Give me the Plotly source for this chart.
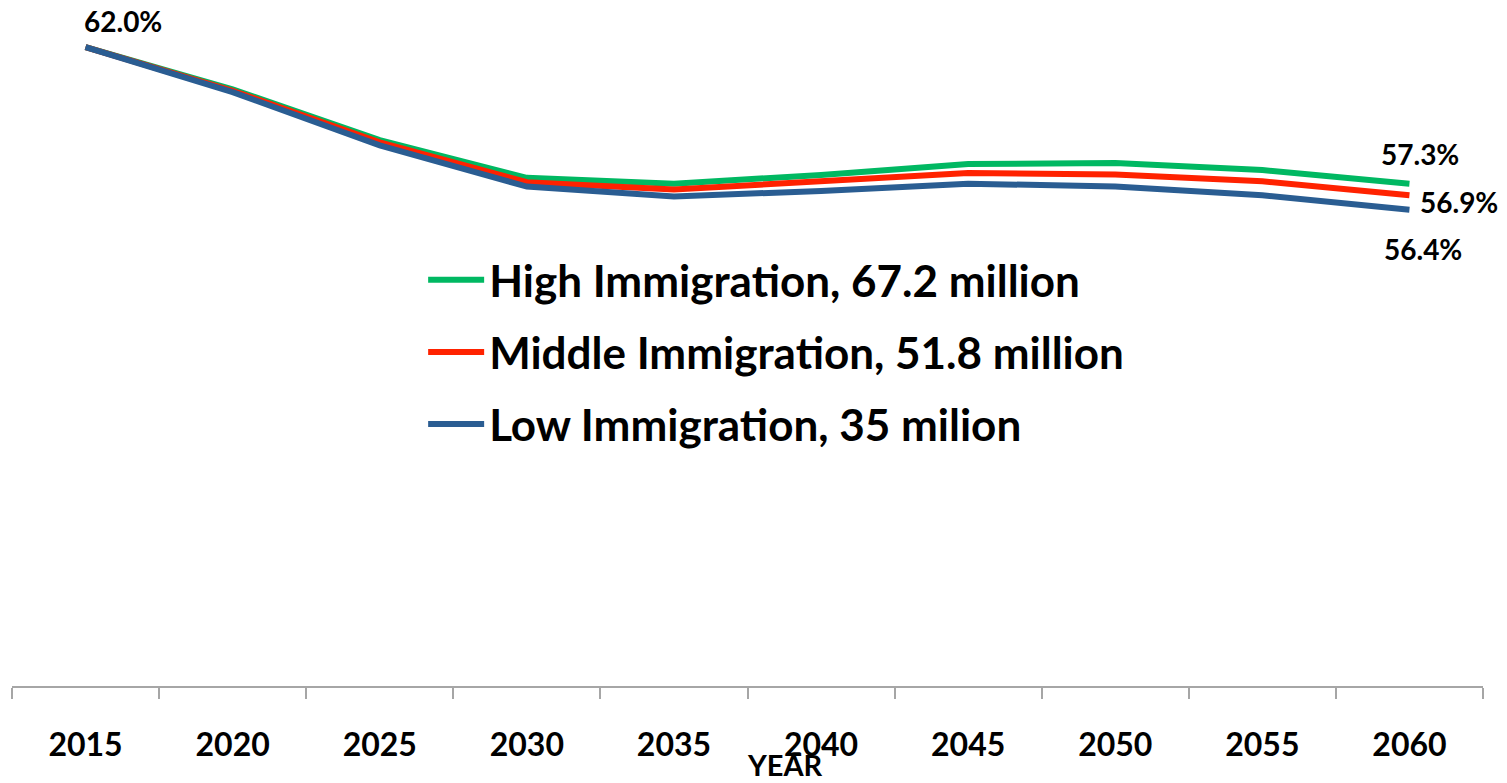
import plotly.graph_objects as go

years = ["2015", "2020", "2025", "2030", "2035", "2040", "2045", "2050", "2055", "2060"]
high = [62.0, 60.55, 58.8, 57.5, 57.3, 57.6, 57.98, 58.01, 57.77, 57.3]
middle = [62.0, 60.5, 58.72, 57.35, 57.1, 57.36, 57.67, 57.62, 57.38, 56.9]
low = [62.0, 60.45, 58.62, 57.2, 56.86, 57.05, 57.3, 57.2, 56.9, 56.4]

names = ["High Immigration, 67.2 million", "Middle Immigration, 51.8 million", "Low Immigration, 35 milion"]
colors = ["#00B862", "#FF2200", "#2A5D92"]

FONT = "Lato"
first = 0
last = len(years) - 1

fig = go.Figure()
for i, (vals, nm, col) in enumerate(zip([high, middle, low], names, colors)):
    fig.add_trace(go.Scatter(
        x=years, y=vals, mode="lines", name=nm, legendgroup=str(i),
        line=dict(color=col, width=6), hoverinfo="skip",
    ))

lab_font = dict(family=FONT, size=28, color="black", weight="bold")
fig.add_annotation(x=first, y=high[first], text="%.1f%%" % high[first], showarrow=False,
                   xanchor="left", yanchor="bottom", xshift=-4, yshift=7, font=lab_font)
fig.add_annotation(x=last, y=high[last], text="%.1f%%" % high[last], showarrow=False,
                   xanchor="left", yanchor="bottom", xshift=-30, yshift=11, font=lab_font)
fig.add_annotation(x=last, y=middle[last], text="%.1f%%" % middle[last], showarrow=False,
                   xanchor="left", yanchor="middle", xshift=9, yshift=-7, font=lab_font)
fig.add_annotation(x=last, y=low[last], text="%.1f%%" % low[last], showarrow=False,
                   xanchor="left", yanchor="top", xshift=-27, yshift=-20, font=lab_font)

fig.add_annotation(xref="paper", yref="paper", x=0.5255, y=-0.116, text="YEAR",
                   showarrow=False, xanchor="center", yanchor="middle",
                   font=dict(family=FONT, size=29, color="black", weight="bold"))

fig.update_layout(
    width=1507, height=783,
    margin=dict(l=12, r=24, t=8, b=97),
    paper_bgcolor="white", plot_bgcolor="white",
    showlegend=True,
    legend=dict(x=0.2795, y=0.651, xanchor="left", yanchor="top",
                font=dict(family=FONT, size=44, color="black", weight="bold"),
                bgcolor="rgba(0,0,0,0)", traceorder="grouped", tracegroupgap=12,
                itemwidth=56),
    font=dict(family=FONT),
)
fig.update_xaxes(type="category", range=[-0.5, 9.5], showgrid=False, zeroline=False,
                 showline=True, linecolor="#A6A6A6", linewidth=2,
                 ticks="outside", tickson="boundaries", ticklen=11, tickcolor="#A6A6A6", tickwidth=2,
                 ticklabelstandoff=30,
                 tickfont=dict(family=FONT, size=32, color="black", weight="bold"))
fig.update_yaxes(range=[40, 63.35], visible=False, showgrid=False, zeroline=False)

fig.write_html("out.html", config={"displayModeBar": False},
               post_script="document.body.style.margin='0';document.body.style.overflow='hidden';")
